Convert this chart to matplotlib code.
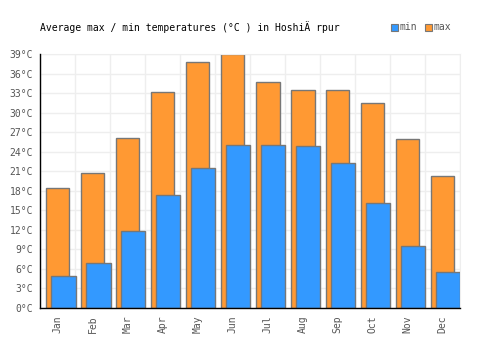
import numpy as np
import matplotlib.pyplot as plt

months = ['Jan', 'Feb', 'Mar', 'Apr', 'May', 'Jun', 'Jul', 'Aug', 'Sep', 'Oct', 'Nov', 'Dec']
t_max = [18.4, 20.7, 26.1, 33.1, 37.7, 39.0, 34.7, 33.4, 33.4, 31.4, 25.9, 20.2]
t_min = [4.9, 6.9, 11.8, 17.3, 21.5, 25.0, 25.1, 24.8, 22.2, 16.1, 9.5, 5.6]
y_ticks = list(range(0, 40, 3))

plt.rcParams['font.family'] = 'DejaVu Sans Mono'

fig = plt.figure(figsize=(5, 3.5), dpi=100)
ax = fig.add_axes([40 / 500, 1 - 308 / 350, 420 / 500, 254 / 350])

x = np.arange(len(months))
ax.bar(x + 6 / 35, t_max, width=23.5 / 35, align='edge', color='#ff9933',
       edgecolor='#777777', linewidth=1, zorder=2)
ax.bar(x + 11 / 35, t_min, width=24.5 / 35, align='edge', color='#3399ff',
       edgecolor='#777777', linewidth=1, zorder=3)

ax.set_xlim(0, 12)
ax.set_ylim(0, 39)
ax.set_xticks(x + 0.5)
ax.set_xticklabels(months, rotation=90, fontsize=7, color='#555555')
ax.set_yticks(y_ticks)
ax.set_yticklabels([f'{t}°C' for t in y_ticks], fontsize=7, color='#555555')
ax.tick_params(length=0, pad=5)

ax.set_xticks(np.arange(13), minor=True)
ax.tick_params(which='minor', length=0)
ax.grid(True, which='minor', axis='x', color='#eeeeee', linewidth=1, zorder=0)
ax.grid(True, which='major', axis='y', color='#eeeeee', linewidth=1, zorder=0)
ax.set_axisbelow(True)

for s in ['top', 'right']:
    ax.spines[s].set_color('#eeeeee')
for s in ['left', 'bottom']:
    ax.spines[s].set_color('black')
    ax.spines[s].set_linewidth(1)
    ax.spines[s].set_zorder(4)

fig.text(40 / 500, 1 - 27 / 350, 'Average max / min temperatures (°C ) in HoshiÄ rpur',
         fontsize=7, va='center', ha='left', color='black')

fig.patches.append(plt.Rectangle((391 / 500, 1 - 31 / 350), 7 / 500, 7 / 350,
                                 transform=fig.transFigure, facecolor='#3399ff',
                                 edgecolor='#777777', linewidth=0.8))
fig.text(400 / 500, 1 - 27 / 350, 'min', fontsize=7, va='center', color='#555555')
fig.patches.append(plt.Rectangle((425 / 500, 1 - 31 / 350), 7 / 500, 7 / 350,
                                 transform=fig.transFigure, facecolor='#ff9933',
                                 edgecolor='#777777', linewidth=0.8))
fig.text(434 / 500, 1 - 27 / 350, 'max', fontsize=7, va='center', color='#555555')

fig.savefig('out.png', dpi=100)
